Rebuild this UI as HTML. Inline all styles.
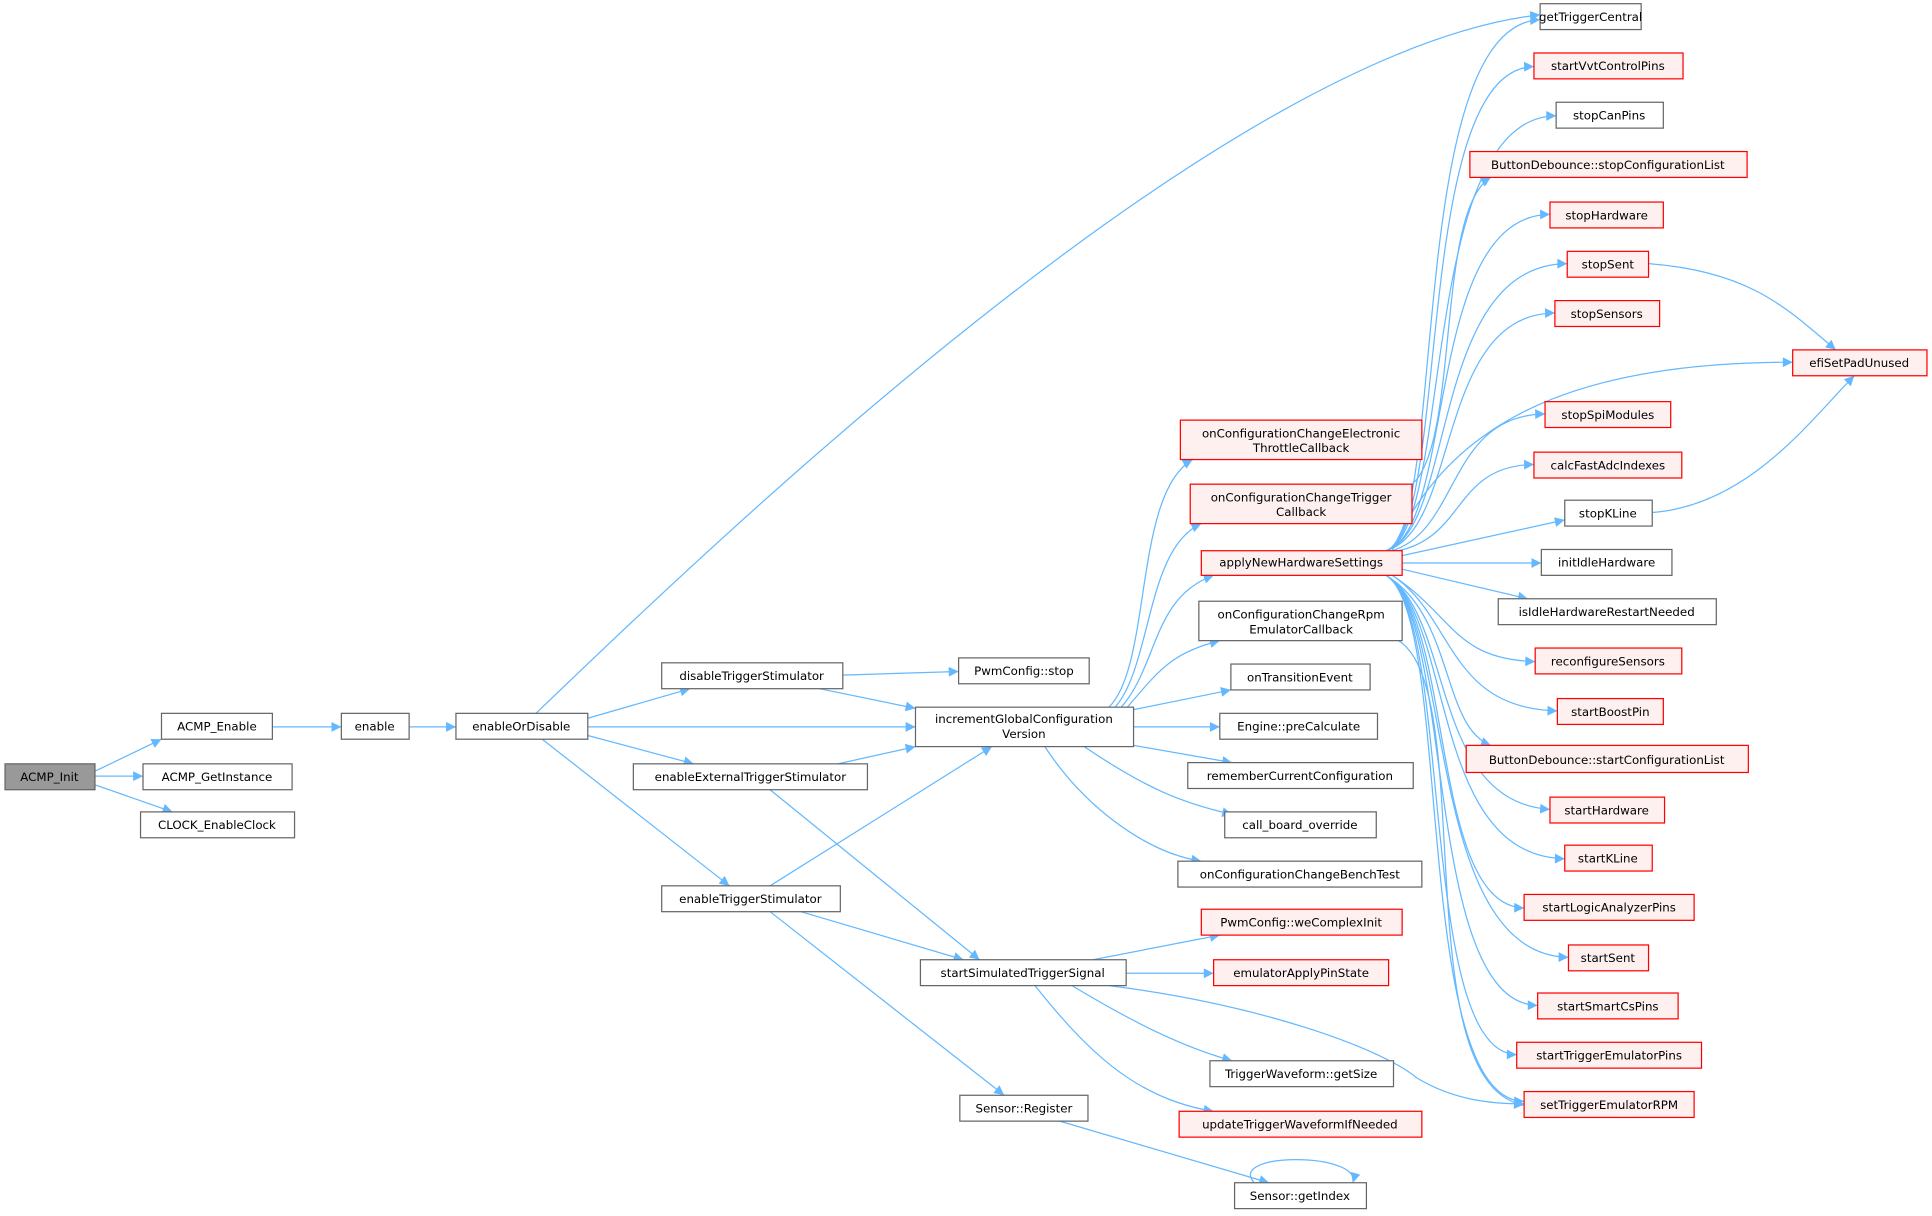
<!DOCTYPE html>
<html><head><meta charset="utf-8"><style>
html,body{margin:0;padding:0;background:#fff;}
svg{display:block;}
text{font-family:"DejaVu Sans","Liberation Sans",sans-serif;font-size:9.6px;fill:#000;text-anchor:middle;}
.n rect{fill:#fff;stroke:#666;stroke-width:1;}
.r rect{fill:#fff0f0;stroke:#ff0000;stroke-width:1;}
.g rect{fill:#999;stroke:#666;stroke-width:1;}
.e path{fill:none;stroke:#63b8ff;stroke-width:1;marker-end:url(#a);}
</style></head><body>
<svg width="1932" height="1216" viewBox="0 0 1568 987" xmlns="http://www.w3.org/2000/svg">
<defs><marker id="a" viewBox="0 0 10 10" refX="10" refY="5" markerWidth="11" markerHeight="8" markerUnits="userSpaceOnUse" orient="auto"><path d="M0,0 L10,5 L0,10 z" fill="#63b8ff"/></marker></defs>
<g class="e">
<path d="M77,626 L131,600"/>
<path d="M77,630 L116,630"/>
<path d="M77,637 L140,659"/>
<path d="M221,590 L277,590"/>
<path d="M332,590 L370,590"/>
<path d="M435,579 C600,420 1000,40 1250,12"/>
<path d="M477,583 L560,559"/>
<path d="M477,590 L743,590"/>
<path d="M477,597 L563,620"/>
<path d="M440,600 L592,719"/>
<path d="M684,548 L778,545"/>
<path d="M665,559 L743,575"/>
<path d="M680,620 L743,606"/>
<path d="M625,641 L795,779"/>
<path d="M625,719 L805,606"/>
<path d="M650,740 L782,779"/>
<path d="M625,740 L815,889"/>
<path d="M860,910 L1030,960"/>
<path d="M1018,960 C995,935 1105,935 1098,960"/>
<path d="M900,574 C935,540 920,400 968,373"/>
<path d="M905,574 C935,540 930,445 975,425"/>
<path d="M910,574 C940,540 935,485 985,467"/>
<path d="M915,574 C940,545 950,530 990,520"/>
<path d="M920,576 L999,560"/>
<path d="M920,590 L990,590"/>
<path d="M920,605 L1000,619"/>
<path d="M880,606 C930,640 960,652 1000,661"/>
<path d="M848,606 C880,655 930,692 975,699"/>
<path d="M887,779 L990,759"/>
<path d="M914,790 L985,790"/>
<path d="M870,800 C920,830 960,850 1000,861"/>
<path d="M840,800 C880,850 920,892 985,902"/>
<path d="M900,800 C1020,815 1120,850 1150,875 C1180,893 1210,896 1237,896"/>
<path d="M1135,520 C1200,560 1140,880 1237,897"/>
<path d="M1146,393 C1185,360 1165,170 1210,144"/>
<path d="M1125,447 C1175,430 1140,20 1250,16"/>
<path d="M1125,447 C1178,430 1145,56 1245,54"/>
<path d="M1125,447 C1180,430 1150,95 1263,94"/>
<path d="M1125,447 C1182,430 1155,175 1258,174"/>
<path d="M1125,447 C1182,430 1160,215 1272,214"/>
<path d="M1125,447 C1185,430 1165,255 1262,254"/>
<path d="M1130,447 C1180,330 1300,294 1455,294"/>
<path d="M1130,447 C1185,430 1175,337 1254,336"/>
<path d="M1135,447 C1190,435 1180,378 1245,377"/>
<path d="M1138,451 L1270,422"/>
<path d="M1138,457 L1251,457"/>
<path d="M1138,462 L1240,486"/>
<path d="M1130,467 C1180,500 1180,535 1246,537"/>
<path d="M1130,467 C1180,500 1175,575 1264,577"/>
<path d="M1125,467 C1180,500 1170,590 1210,605"/>
<path d="M1125,467 C1180,500 1160,650 1258,657"/>
<path d="M1125,467 C1180,500 1160,695 1270,697"/>
<path d="M1125,467 C1180,500 1160,735 1237,737"/>
<path d="M1125,467 C1180,500 1155,775 1273,777"/>
<path d="M1125,467 C1180,500 1155,815 1248,816"/>
<path d="M1125,467 C1180,500 1150,855 1231,856"/>
<path d="M1125,467 C1180,500 1145,893 1237,894"/>
<path d="M1338,214 C1420,220 1450,250 1490,284"/>
<path d="M1341,416 C1420,410 1470,340 1505,305"/>
</g>
<g class="g"><rect x="4" y="620" width="73" height="21"/></g><text x="40" y="634">ACMP_Init</text>
<g class="n">
<rect x="131" y="579" width="90" height="21"/>
<rect x="116" y="620" width="121" height="21"/>
<rect x="114" y="659" width="125" height="21"/>
<rect x="277" y="579" width="55" height="21"/>
<rect x="370" y="579" width="107" height="21"/>
<rect x="537" y="538" width="147" height="21"/>
<rect x="514" y="620" width="190" height="21"/>
<rect x="537" y="719" width="145" height="21"/>
<rect x="778" y="534" width="106" height="21"/>
<rect x="743" y="574" width="177" height="32"/>
<rect x="747" y="779" width="167" height="21"/>
<rect x="779" y="889" width="104" height="21"/>
<rect x="1002" y="960" width="107" height="21"/>
<rect x="973" y="488" width="165" height="32"/>
<rect x="999" y="539" width="113" height="21"/>
<rect x="990" y="579" width="128" height="21"/>
<rect x="964" y="619" width="183" height="21"/>
<rect x="994" y="659" width="123" height="21"/>
<rect x="956" y="699" width="198" height="21"/>
<rect x="982" y="861" width="149" height="21"/>
<rect x="1250" y="3" width="82" height="21"/>
<rect x="1263" y="83" width="87" height="21"/>
<rect x="1270" y="406" width="71" height="21"/>
<rect x="1251" y="446" width="106" height="21"/>
<rect x="1216" y="486" width="177" height="21"/>
</g>
<g class="r">
<rect x="958" y="341" width="196" height="32"/>
<rect x="966" y="393" width="180" height="32"/>
<rect x="975" y="447" width="163" height="20"/>
<rect x="975" y="738" width="163" height="21"/>
<rect x="985" y="779" width="142" height="21"/>
<rect x="957" y="902" width="197" height="21"/>
<rect x="1245" y="43" width="121" height="21"/>
<rect x="1193" y="123" width="225" height="21"/>
<rect x="1258" y="164" width="92" height="21"/>
<rect x="1272" y="204" width="66" height="21"/>
<rect x="1262" y="244" width="85" height="21"/>
<rect x="1254" y="326" width="102" height="21"/>
<rect x="1245" y="367" width="120" height="21"/>
<rect x="1246" y="526" width="119" height="21"/>
<rect x="1264" y="567" width="86" height="21"/>
<rect x="1190" y="605" width="229" height="22"/>
<rect x="1258" y="647" width="93" height="21"/>
<rect x="1270" y="686" width="71" height="21"/>
<rect x="1237" y="726" width="138" height="21"/>
<rect x="1273" y="767" width="65" height="21"/>
<rect x="1248" y="806" width="114" height="21"/>
<rect x="1231" y="846" width="150" height="21"/>
<rect x="1237" y="886" width="138" height="21"/>
<rect x="1455" y="284" width="109" height="21"/>
</g>
<text x="176" y="593">ACMP_Enable</text>
<text x="176" y="634">ACMP_GetInstance</text>
<text x="176" y="673">CLOCK_EnableClock</text>
<text x="304" y="593">enable</text>
<text x="423" y="593">enableOrDisable</text>
<text x="610" y="552">disableTriggerStimulator</text>
<text x="609" y="634">enableExternalTriggerStimulator</text>
<text x="609" y="733">enableTriggerStimulator</text>
<text x="831" y="548">PwmConfig::stop</text>
<text x="831" y="587">incrementGlobalConfiguration</text>
<text x="831" y="599">Version</text>
<text x="830" y="793">startSimulatedTriggerSignal</text>
<text x="831" y="903">Sensor::Register</text>
<text x="1055" y="974">Sensor::getIndex</text>
<text x="1056" y="355">onConfigurationChangeElectronic</text>
<text x="1056" y="367">ThrottleCallback</text>
<text x="1056" y="407">onConfigurationChangeTrigger</text>
<text x="1056" y="419">Callback</text>
<text x="1056" y="460">applyNewHardwareSettings</text>
<text x="1056" y="502">onConfigurationChangeRpm</text>
<text x="1056" y="514">EmulatorCallback</text>
<text x="1055" y="553">onTransitionEvent</text>
<text x="1054" y="593">Engine::preCalculate</text>
<text x="1055" y="633">rememberCurrentConfiguration</text>
<text x="1055" y="673">call_board_override</text>
<text x="1055" y="713">onConfigurationChangeBenchTest</text>
<text x="1056" y="752">PwmConfig::weComplexInit</text>
<text x="1056" y="793">emulatorApplyPinState</text>
<text x="1056" y="875">TriggerWaveform::getSize</text>
<text x="1055" y="916">updateTriggerWaveformIfNeeded</text>
<text x="1291" y="17">getTriggerCentral</text>
<text x="1305" y="57">startVvtControlPins</text>
<text x="1306" y="97">stopCanPins</text>
<text x="1305" y="137">ButtonDebounce::stopConfigurationList</text>
<text x="1304" y="178">stopHardware</text>
<text x="1305" y="218">stopSent</text>
<text x="1304" y="258">stopSensors</text>
<text x="1509" y="298">efiSetPadUnused</text>
<text x="1305" y="340">stopSpiModules</text>
<text x="1305" y="381">calcFastAdcIndexes</text>
<text x="1305" y="420">stopKLine</text>
<text x="1304" y="460">initIdleHardware</text>
<text x="1304" y="500">isIdleHardwareRestartNeeded</text>
<text x="1305" y="540">reconfigureSensors</text>
<text x="1307" y="581">startBoostPin</text>
<text x="1304" y="620">ButtonDebounce::startConfigurationList</text>
<text x="1304" y="661">startHardware</text>
<text x="1305" y="700">startKLine</text>
<text x="1306" y="740">startLogicAnalyzerPins</text>
<text x="1305" y="781">startSent</text>
<text x="1305" y="820">startSmartCsPins</text>
<text x="1306" y="860">startTriggerEmulatorPins</text>
<text x="1306" y="900">setTriggerEmulatorRPM</text>
</svg>
</body></html>
